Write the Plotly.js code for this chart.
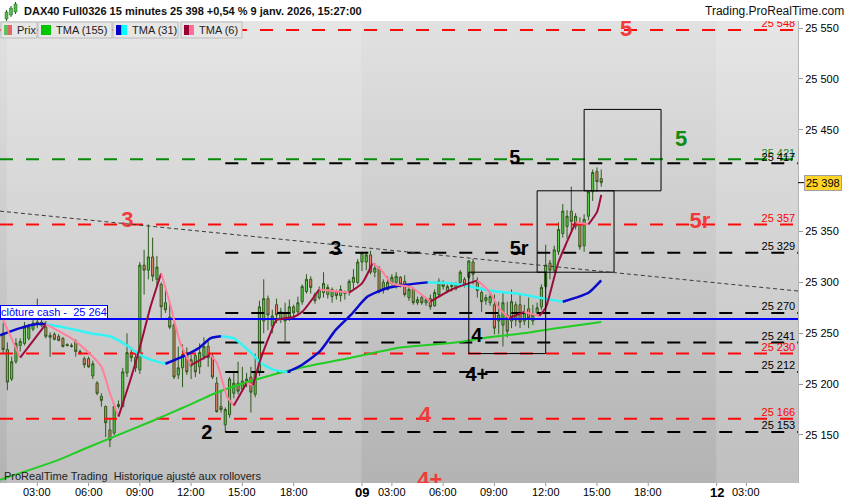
<!DOCTYPE html>
<html><head><meta charset="utf-8">
<script src="https://cdn.plot.ly/plotly-3.0.1.min.js"></script>
<style>
html,body{margin:0;padding:0;background:#fff;}
#wrap{position:relative;width:850px;height:500px;overflow:hidden;}
#bg{position:absolute;left:0;top:21px;width:798px;height:462px;background:linear-gradient(#e1e1e1,#b3b3b3);}
#chart{position:absolute;left:0;top:0;width:850px;height:500px;}
</style></head><body>
<div id="wrap"><div id="bg"></div><div id="chart"></div></div>
<script>
// ---------- DATA (15-minute bars, bar -1 = 7 janv. 21:45, bar 0 = 8 janv. 01:15, bar 83 = 9 janv. 01:15) ----------
const open = [
25250,25234,25205,25222,25238,25240,25245,25254,25259,25261,
25256,25248,25249,25247,25245,25239,25238,25242,25232,25225,
25225,25208,25201,25188,25178,25155,25152,25180,25178,25211,
25231,25226,25214,25317,25312,25325,25303,25298,25280,25266,
25258,25209,25216,25231,25218,25228,25217,25227,25237,25227,
25201,25178,25160,25170,25191,25201,25195,25203,25207,25190,
25212,25262,25284,25257,25278,25264,25270,25266,25276,25271,
25281,25291,25303,25288,25285,25290,25288,25286,25291,25287,
25291,25291,25300,25300,25320,25320,25327,25310,25314,25300,
25293,25299,25300,25305,25301,25285,25293,25280,25285,25280,
25284,25277,25288,25300,25292,25296,25294,25300,25303,25305,
25320,25300,25290,25282,25280,25278,25262,25258,25268,25262,
25278,25278,25262,25274,25262,25270,25276,25296,25319,25312,
25330,25348,25355,25370,25355,25357,25336,25365,25389,25409,
25402];
const high = [
25260,25241,25227,25245,25245,25261,25259,25265,25284,25264,
25262,25251,25251,25249,25246,25240,25240,25244,25234,25227,
25227,25223,25203,25191,25179,25165,25181,25184,25216,25250,
25236,25232,25320,25332,25357,25344,25326,25300,25296,25280,
25260,25237,25239,25236,25229,25231,25240,25246,25242,25230,
25207,25194,25177,25207,25212,25222,25217,25211,25217,25230,
25282,25303,25287,25273,25284,25275,25280,25283,25278,25286,
25298,25308,25306,25290,25296,25310,25298,25295,25293,25297,
25292,25303,25313,25323,25330,25330,25331,25319,25316,25303,
25306,25308,25310,25306,25307,25298,25295,25286,25287,25285,
25288,25293,25304,25302,25298,25300,25300,25312,25305,25322,
25323,25305,25295,25288,25291,25288,25281,25291,25281,25293,
25281,25288,25278,25285,25278,25280,25298,25337,25322,25336,
25359,25377,25371,25394,25368,25364,25367,25390,25411,25413,
25411];
const low = [
25230,25194,25203,25220,25232,25238,25243,25252,25255,25256,
25245,25227,25243,25242,25236,25237,25236,25227,25229,25216,
25216,25205,25189,25178,25148,25138,25150,25176,25177,25207,
25222,25212,25210,25288,25303,25301,25296,25265,25270,25254,
25205,25205,25197,25209,25205,25207,25210,25224,25217,25205,
25172,25172,25153,25167,25186,25190,25193,25197,25172,25187,
25208,25250,25253,25250,25260,25260,25242,25262,25264,25268,
25278,25289,25289,25279,25283,25285,25284,25280,25283,25281,
25283,25287,25293,25298,25311,25312,25308,25305,25289,25289,
25292,25297,25294,25295,25286,25282,25278,25278,25278,25277,
25273,25276,25285,25293,25290,25291,25292,25297,25295,25303,
25298,25285,25271,25278,25277,25249,25249,25237,25246,25255,
25257,25255,25258,25255,25258,25267,25273,25294,25303,25310,
25327,25344,25343,25350,25352,25332,25330,25361,25380,25389,
25394];
const close = [
25234,25202,25222,25240,25242,25256,25256,25260,25261,25258,
25247,25246,25244,25243,25237,25238,25237,25232,25231,25219,
25217,25220,25191,25184,25162,25145,25178,25178,25212,25231,
25226,25216,25317,25312,25325,25306,25315,25276,25273,25256,
25207,25216,25229,25212,25224,25212,25231,25237,25226,25207,
25173,25175,25175,25205,25201,25193,25203,25205,25192,25212,
25276,25284,25268,25267,25268,25271,25262,25276,25270,25280,
25296,25303,25295,25282,25293,25299,25295,25293,25287,25293,
25289,25301,25305,25320,25329,25327,25310,25314,25291,25293,
25300,25305,25306,25298,25288,25293,25280,25283,25280,25283,
25276,25290,25301,25296,25296,25297,25299,25310,25298,25321,
25308,25292,25281,25285,25286,25255,25268,25280,25252,25281,
25263,25261,25270,25265,25268,25275,25295,25317,25312,25332,
25352,25370,25365,25360,25365,25335,25362,25389,25408,25399,
25398];
const firstBar = -1;

// Moving averages (bar position, price)
const tma155X = [-1.7, 11.7, 17.8, 33.5, 41.2, 49.2, 57, 68.6, 80.4, 92.1, 105, 112.7, 120.7, 128.5, 139];
const tma155Y = [25106, 25125, 25136, 25163, 25177, 25192, 25203, 25216, 25226, 25236, 25241, 25246, 25250, 25255, 25261];
const tma31X = [-1.7, 3, 7, 9, 14, 19.4, 24, 28, 31, 33.5, 37, 41, 45, 47.5, 50, 53, 57, 59.3, 62.3, 65.6, 68.6, 73.3, 76.8, 80.4, 84.3, 88.6, 92, 98.4, 104, 106, 112.7, 120.7, 124.4, 130, 133.8, 136.1, 139];
const tma31Y = [25248, 25255, 25259, 25259, 25255, 25250, 25247, 25238, 25229, 25224, 25220, 25227, 25236, 25245, 25247, 25245, 25231, 25221, 25214, 25212, 25218, 25233, 25253, 25268, 25286, 25294, 25297, 25300, 25299, 25298, 25292, 25288, 25285, 25281, 25286, 25290, 25302];
const tma6X = [-1, 3, 9, 15, 19, 22, 24, 26, 29, 31, 33.5, 36, 38, 40.5, 43, 47.5, 49, 51.5, 53, 56, 57.5, 59, 61.6, 63, 67, 69, 73, 80, 83, 85.5, 87.5, 90, 94.5, 99, 104, 110, 113, 115, 117.5, 121, 124.5, 126, 127.5, 129, 131, 133, 136, 138, 139];
const tma6Y = [25263, 25226, 25259, 25245, 25231, 25217, 25191, 25168, 25207, 25236, 25276, 25309, 25280, 25240, 25219, 25229, 25221, 25187, 25179, 25201, 25199, 25221, 25250, 25263, 25266, 25271, 25293, 25290, 25299, 25319, 25312, 25299, 25295, 25281, 25293, 25302, 25290, 25275, 25265, 25271, 25267, 25275, 25297, 25320, 25340, 25359, 25357, 25369, 25386];

// Horizontal levels
const redLevels = [25548, 25357, 25230, 25166];
const redLabels = ['25 548', '25 357', '25 230', '25 166'];
const greenLevels = [25421];
const greenLabels = ['25 421'];
const blackLevels = [25417, 25329, 25270, 25241, 25212, 25153];
const blackLabels = ['25 417', '25 329', '25 270', '25 241', '25 212', '25 153'];
const blackStartBar = 51;
const cashLevel = 25264;
const lastPrice = 25398;

// Wave marks (bar position, price, text)
const blackMarkX = [118.8, 119.8, 76.9, 109.9, 109.9, 46.7];
const blackMarkY = [25421, 25332, 25332, 25246, 25208, 25151];
const blackMarkT = ['5', '5r', '3', '4', '4+', '2'];
const redMarkX = [144.8, 162.1, 28.1, 97.8, 98.9];
const redMarkY = [25548, 25359, 25360, 25168, 25104];
const redMarkT = ['5', '5r', '3', '4', '4+'];
const greenMarkX = [157.7];
const greenMarkY = [25439];
const greenMarkT = ['5'];

// Boxes [bar0, bar1, price0, price1]
const boxBar0 = [108, 124, 135];
const boxBar1 = [126, 142, 153];
const boxP0 = [25230, 25310, 25390];
const boxP1 = [25310, 25390, 25470];

// Trend line
const trendBars = [-1.73, 185.06];
const trendPrices = [25370, 25291.5];

// Axis ticks
const xTickBars = [7, 19, 31, 43, 55, 67, 83, 90, 102, 114, 126, 138, 150, 166, 173];
const xTickText = ['03:00','06:00','09:00','12:00','15:00','18:00','<b><span style="font-size:13px">09</span></b>','03:00','06:00','09:00','12:00','15:00','18:00','<b><span style="font-size:13px">12</span></b>','03:00'];
const yTickVals = [25150, 25200, 25250, 25300, 25350, 25450, 25500, 25550];
const yTickText = ['25 150','25 200','25 250','25 300','25 350','25 450','25 500','25 550'];

// Day sessions (bar range) shaded lighter
const lightDayStart = [-0.15, 165.9];
const lightDayEnd = [82.9, 185.06];

// ---------- BUILD ----------
const X_MIN = -1.73, X_MAX = 185.06;
const FONT = 'Arial, "Liberation Sans", sans-serif';
const idx = open.map((_, k) => k + firstBar);
const PX = x => x / 798;
const PY = y => (483 - y) / 462;

const traces = [];
traces.push({
  type: 'candlestick', x: idx, open: open, high: high, low: low, close: close,
  increasing: {line: {color: '#2e5a1c', width: 1}, fillcolor: '#5dcf4c'},
  decreasing: {line: {color: '#2e5a1c', width: 1}, fillcolor: '#e8806c'},
  whiskerwidth: 0, hoverinfo: 'skip'
});

function hline(y, x0, color, dash, width) {
  return {type: 'scatter', mode: 'lines', x: [x0, X_MAX], y: [y, y],
    line: {color: color, dash: dash, width: width}, hoverinfo: 'skip'};
}
redLevels.forEach(v => traces.push(hline(v, X_MIN, '#ff0a0a', '13px,13px', 2)));
greenLevels.forEach(v => traces.push(hline(v, X_MIN, '#0a8a0a', '13px,13px', 2)));
blackLevels.forEach(v => traces.push(hline(v, blackStartBar, '#000000', '13px,13px', 2)));
traces.push(hline(cashLevel, X_MIN, '#0000ff', 'solid', 2));

function splitByDir(xs, ys, upColor, downColor, width) {
  const segs = [];
  let cur = null, curColor = null;
  for (let k = 1; k < xs.length; k++) {
    let c = ys[k] > ys[k - 1] ? upColor : (ys[k] < ys[k - 1] ? downColor : (curColor || upColor));
    if (c !== curColor) {
      cur = {x: [xs[k - 1]], y: [ys[k - 1]], color: c};
      segs.push(cur); curColor = c;
    }
    cur.x.push(xs[k]); cur.y.push(ys[k]);
  }
  return segs.map(s => ({type: 'scatter', mode: 'lines', x: s.x, y: s.y,
    line: {color: s.color, width: width, shape: 'spline', smoothing: 0.6}, hoverinfo: 'skip'}));
}
traces.push({type: 'scatter', mode: 'lines', x: tma155X, y: tma155Y,
  line: {color: '#22cc22', width: 2, shape: 'spline', smoothing: 0.6}, hoverinfo: 'skip'});
splitByDir(tma31X, tma31Y, '#0a0acc', '#33f4f4', 2.5).forEach(t => traces.push(t));
splitByDir(tma6X, tma6Y, '#9e0c3c', '#ff7f9c', 2).forEach(t => traces.push(t));

// level labels at right edge
function edgeLabels(levels, labels, color) {
  return {type: 'scatter', mode: 'text', x: levels.map(() => 184.4), y: levels, text: labels,
    textposition: 'top left', textfont: {family: FONT, size: 11, color: color}, cliponaxis: true, hoverinfo: 'skip'};
}
traces.push(edgeLabels(redLevels, redLabels, '#ff0000'));
traces.push(edgeLabels(greenLevels, greenLabels, '#1a8a1a'));
traces.push(edgeLabels(blackLevels, blackLabels, '#000000'));

function marks(xs, ys, ts, color, size) {
  return {type: 'scatter', mode: 'text', x: xs, y: ys, text: ts, textposition: 'middle center',
    textfont: {family: FONT, size: size, color: color, weight: 'bold'}, cliponaxis: true, hoverinfo: 'skip'};
}
traces.push(marks(blackMarkX, blackMarkY, blackMarkT, '#000000', 20));
traces.push(marks(redMarkX, redMarkY, redMarkT, '#f23a3a', 22));
traces.push(marks(greenMarkX, greenMarkY, greenMarkT, '#128c12', 22));

const shapes = [];
lightDayStart.forEach((s, k) => shapes.push({type: 'rect', xref: 'x', yref: 'paper', x0: s, x1: lightDayEnd[k], y0: 0, y1: 1,
  fillcolor: 'rgba(255,255,255,0.16)', line: {width: 0}, layer: 'below'}));
boxBar0.forEach((b, k) => shapes.push({type: 'rect', xref: 'x', yref: 'y', x0: b, x1: boxBar1[k], y0: boxP0[k], y1: boxP1[k],
  line: {color: '#000', width: 1}, fillcolor: 'rgba(0,0,0,0)', layer: 'above'}));
shapes.push({type: 'line', xref: 'x', yref: 'y', x0: trendBars[0], x1: trendBars[1], y0: trendPrices[0], y1: trendPrices[1],
  line: {color: '#3a3a3a', width: 1, dash: '4px,3px'}, layer: 'above'});
// last price tick on axis
shapes.push({type: 'line', xref: 'paper', yref: 'y', x0: 1, x1: PX(804), y0: lastPrice, y1: lastPrice, line: {color: '#000', width: 1}});
// legend boxes & swatches
const legBoxes = [[1, 37], [38, 112], [113, 178], [181, 242]];
legBoxes.forEach(b => shapes.push({type: 'rect', xref: 'paper', yref: 'paper', x0: PX(b[0]), x1: PX(b[1]), y0: PY(38), y1: PY(22),
  fillcolor: '#e6e6e6', line: {color: '#bcbcbc', width: 1}}));
const sw = [[4, 8, '#5cc05c'], [8, 12, '#e06868'], [41, 51, '#00c800'], [116, 121.5, '#0000c8'], [121.5, 127, '#00ffff'], [184, 189, '#990033'], [189, 194, '#ff6f96']];
sw.forEach(s => shapes.push({type: 'rect', xref: 'paper', yref: 'paper', x0: PX(s[0]), x1: PX(s[1]), y0: PY(35), y1: PY(25),
  fillcolor: s[2], line: {width: 0}}));
// header icon
[[5, 12, 19, 10, 21], [9.5, 8, 15, 6, 17], [14, 4, 12, 2, 14]].forEach(c => {
  shapes.push({type: 'line', xref: 'paper', yref: 'paper', x0: PX(c[0] + 1.5), x1: PX(c[0] + 1.5), y0: PY(c[4]), y1: PY(c[3]), line: {color: '#2e5a1c', width: 1}});
  shapes.push({type: 'rect', xref: 'paper', yref: 'paper', x0: PX(c[0]), x1: PX(c[0] + 3), y0: PY(c[2]), y1: PY(c[1]), fillcolor: '#4cc04c', line: {color: '#2e5a1c', width: 0.5}});
});
// x tick marks
xTickBars.forEach(b => shapes.push({type: 'line', xref: 'x', yref: 'paper', x0: b, x1: b, y0: 0, y1: PY(486), line: {color: '#999', width: 1}}));

const annotations = [
  {xref: 'paper', yref: 'paper', x: PX(22), y: PY(11), xanchor: 'left', yanchor: 'middle', showarrow: false,
   text: '<b>DAX40 Full0326 15 minutes 25 398 +0,54 % 9 janv. 2026, 15:27:00</b>', font: {family: FONT, size: 11, color: '#111'}},
  {xref: 'paper', yref: 'paper', x: PX(846), y: PY(11), xanchor: 'right', yanchor: 'middle', showarrow: false,
   text: 'Trading.ProRealTime.com', font: {family: FONT, size: 12, color: '#111'}},
  {xref: 'paper', yref: 'paper', x: PX(15), y: PY(30), xanchor: 'left', yanchor: 'middle', showarrow: false, text: 'Prix', font: {family: FONT, size: 11, color: '#222'}},
  {xref: 'paper', yref: 'paper', x: PX(54), y: PY(30), xanchor: 'left', yanchor: 'middle', showarrow: false, text: 'TMA (155)', font: {family: FONT, size: 11, color: '#222'}},
  {xref: 'paper', yref: 'paper', x: PX(130), y: PY(30), xanchor: 'left', yanchor: 'middle', showarrow: false, text: 'TMA (31)', font: {family: FONT, size: 11, color: '#222'}},
  {xref: 'paper', yref: 'paper', x: PX(197), y: PY(30), xanchor: 'left', yanchor: 'middle', showarrow: false, text: 'TMA (6)', font: {family: FONT, size: 11, color: '#222'}},
  {xref: 'paper', yref: 'paper', x: PX(2), y: PY(476), xanchor: 'left', yanchor: 'middle', showarrow: false,
   text: 'ProRealTime Trading\u00a0 Historique ajusté aux rollovers', font: {family: FONT, size: 11, color: '#222'}},
  {xref: 'paper', yref: 'y', x: 0, y: cashLevel, xanchor: 'left', yanchor: 'bottom', showarrow: false,
   text: 'clôture cash -\u00a0 25 264', font: {family: FONT, size: 11, color: '#0000ff'},
   bgcolor: '#ffffff', bordercolor: '#0000ff', borderwidth: 1, borderpad: 0},
  {xref: 'paper', yref: 'y', x: PX(804), y: lastPrice, xanchor: 'left', yanchor: 'middle', showarrow: false,
   text: '25 398', font: {family: FONT, size: 11, color: '#000'}, bgcolor: '#ffd426', bordercolor: '#a0a0a0', borderwidth: 1, borderpad: 1}
];
// x tick labels as annotations (placed just under the axis)
xTickBars.forEach((b, k) => annotations.push({xref: 'x', yref: 'paper', x: b, y: PY(492), xanchor: 'center', yanchor: 'middle',
  showarrow: false, text: xTickText[k], font: {family: FONT, size: 11, color: '#000'}}));

const layout = {
  width: 850, height: 500,
  margin: {l: 0, r: 52, t: 21, b: 17, pad: 0},
  paper_bgcolor: 'rgba(0,0,0,0)', plot_bgcolor: 'rgba(0,0,0,0)',
  showlegend: false,
  font: {family: FONT, size: 11, color: '#000'},
  xaxis: {range: [X_MIN, X_MAX], showticklabels: false, ticks: '', showgrid: false, zeroline: false, showline: false,
    rangeslider: {visible: false}, fixedrange: true},
  yaxis: {side: 'right', range: [25102.8, 25556.9], tickmode: 'array', tickvals: yTickVals, ticktext: yTickText,
    ticks: 'outside', ticklen: 4, tickcolor: '#999', showline: true, linecolor: '#b4b4b4', showgrid: false,
    zeroline: false, tickfont: {size: 11, color: '#000'}, fixedrange: true},
  shapes: shapes,
  annotations: annotations
};
Plotly.newPlot('chart', traces, layout, {staticPlot: true, displayModeBar: false});
</script>
</body></html>
